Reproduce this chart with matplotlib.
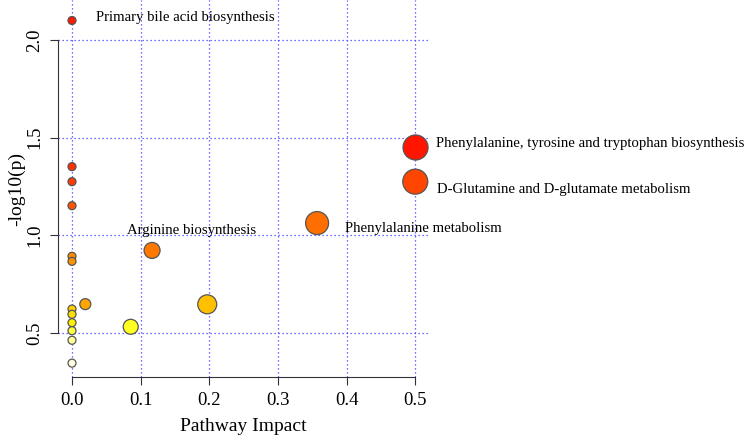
import matplotlib
matplotlib.use("Agg")
import matplotlib.pyplot as plt

# Data
impact = [0.0, 0.5004, 0.0, 0.0, 0.5, 0.0, 0.357, 0.1166, 0.0, 0.0,
          0.0194, 0.197, 0.0, 0.0, 0.0, 0.0855, 0.0, 0.0, 0.0]
neglogp = [2.10, 1.450, 1.352, 1.275, 1.275, 1.152, 1.063, 0.923, 0.893, 0.867,
           0.648, 0.647, 0.623, 0.596, 0.553, 0.532, 0.512, 0.463, 0.346]
diam_px = [8, 25, 8, 8, 25, 8, 23, 16, 8, 8,
           11, 19, 8, 8, 8, 15, 8, 8, 8]
colors = ["#FF1A00", "#FF1500", "#FF3000", "#FF3C00", "#FF4500", "#FF5200", "#FF6E00",
          "#FF7800", "#FF8A00", "#FF9200", "#FFA500", "#FFC000", "#FFD000",
          "#FFE000", "#FFF000", "#FFFF20", "#FFFF40", "#FFFF99", "#FFFFE0"]

labels = ["Primary bile acid biosynthesis", "Arginine biosynthesis",
          "Phenylalanine metabolism",
          "Phenylalanine, tyrosine and tryptophan biosynthesis",
          "D-Glutamine and D-glutamate metabolism"]
label_x = [0.035, 0.080, 0.397, 0.530, 0.5316]
label_y = [2.113, 1.025, 1.036, 1.471, 1.237]

xticks = [0.0, 0.1, 0.2, 0.3, 0.4, 0.5]
yticks = [0.5, 1.0, 1.5, 2.0]

plt.rcParams['font.family'] = ['Liberation Serif', 'DejaVu Serif']

fig = plt.figure(figsize=(7.5, 4.42), dpi=100)
ax = fig.add_axes([58/750, 65/442, (429-58)/750, 377/442])
ax.set_xlim(-0.0204, 0.52)
ax.set_ylim(0.275, 2.205)

for t in xticks:
    ax.axvline(t, color="#4040FF", lw=0.9, ls=(0, (1.0, 2.2)), zorder=1)
for t in yticks:
    ax.axhline(t, color="#4040FF", lw=0.9, ls=(0, (1.0, 2.2)), zorder=1)

sizes = [(d * 0.72) ** 2 for d in diam_px]
ax.scatter(impact, neglogp, s=sizes, c=colors, edgecolors="#555555",
           linewidths=0.9, zorder=3, clip_on=False)

for lab, lx, ly in zip(labels, label_x, label_y):
    ax.text(lx, ly, lab, fontsize=10.6, ha="left", va="center", zorder=4,
            clip_on=False)

for s in ["top", "right"]:
    ax.spines[s].set_visible(False)
ax.spines["left"].set_bounds(0.5, 2.0)
ax.spines["bottom"].set_bounds(0.0, 0.5)
ax.spines["left"].set_color("#333333")
ax.spines["bottom"].set_color("#333333")

ax.set_xticks(xticks)
ax.set_xticklabels([f"{t:.1f}" for t in xticks])
ax.set_yticks(yticks)
ax.set_yticklabels([f"{t:.1f}" for t in yticks], rotation=90, va="center")
ax.tick_params(axis="both", labelsize=13.5, length=5.5, color="#333333")
ax.tick_params(axis="y", pad=5)
ax.tick_params(axis="x", pad=5)

ax.set_xlabel("Pathway Impact", fontsize=14, labelpad=7)
ax.set_ylabel("-log10(p)", fontsize=14, labelpad=1)

fig.savefig("out.png", dpi=100)
